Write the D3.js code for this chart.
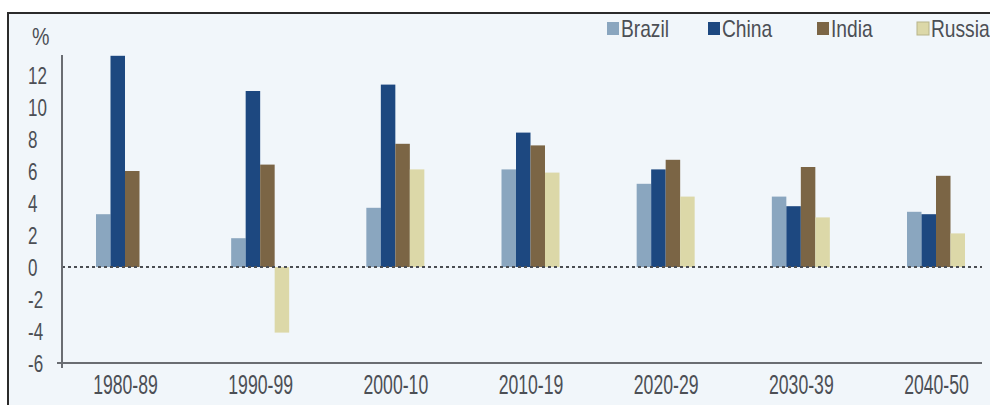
<!DOCTYPE html>
<html>
<head>
<meta charset="utf-8">
<script src="https://cdn.jsdelivr.net/npm/d3@7"></script>
<style>
  html, body { margin: 0; padding: 0; background: #ffffff; }
  svg { display: block; }
  text { font-family: "Liberation Sans", Arial, sans-serif; fill: #4c4f55; }
</style>
</head>
<body>
<svg id="chart" width="990" height="405"></svg>
<script>
// Decades on the category axis
const periods = ["1980-89", "1990-99", "2000-10", "2010-19", "2020-29", "2030-39", "2040-50"];
// Countries, one bar each per decade
const countries = ["Brazil", "China", "India", "Russia"];
// Average annual growth, % (null = no bar)
const brazil = [3.3, 1.8, 3.7, 6.1, 5.2, 4.4, 3.45];
const china  = [13.2, 11.0, 11.4, 8.4, 6.1, 3.8, 3.3];
const india  = [6.0, 6.4, 7.7, 7.6, 6.7, 6.25, 5.7];
const russia = [null, -4.1, 6.1, 5.9, 4.4, 3.1, 2.1];
// Value axis ticks
const yTicks = [-6, -4, -2, 0, 2, 4, 6, 8, 10, 12];
const colors = ["#8aa6bf", "#1d4880", "#7b6545", "#dcd8a8"];

const seriesValues = [brazil, china, india, russia];

const svg = d3.select("#chart");

// panel background and frame
svg.append("rect").attr("x", 8).attr("y", 13).attr("width", 982).attr("height", 392).attr("fill", "#f1f6fa");
svg.append("path").attr("d", "M8,405V13H990").attr("fill", "none").attr("stroke", "#2b2b2b").attr("stroke-width", 2);

const y = d3.scaleLinear().domain([-6, 13]).range([363, 59]);
const x = d3.scalePoint().domain(periods).range([125, 936]);
const xs = d3.scaleBand().domain(countries).range([-29, 29]);

// bars
const rows = [];
periods.forEach((p, i) => {
  countries.forEach((c, k) => {
    const v = seriesValues[k][i];
    if (v !== null) rows.push({ p, c, v, k });
  });
});

svg.append("g").selectAll("rect").data(rows).join("rect")
  .attr("x", d => x(d.p) + xs(d.c))
  .attr("width", xs.bandwidth())
  .attr("y", d => Math.min(y(d.v), y(0)))
  .attr("height", d => Math.abs(y(d.v) - y(0)))
  .attr("fill", d => colors[d.k]);

// dotted zero line
svg.append("line")
  .attr("x1", 62).attr("x2", 982)
  .attr("y1", y(0)).attr("y2", y(0))
  .attr("stroke", "#4a4d52").attr("stroke-width", 2)
  .attr("stroke-dasharray", "3,3");

// y axis: vertical line with left-aligned, condensed labels
const yAxis = d3.axisLeft(y).tickValues(yTicks).tickSize(0).tickPadding(0).tickFormat(d => String(d));
const gy = svg.append("g").attr("transform", "translate(62,0)").call(yAxis);
gy.select(".domain").remove();
gy.selectAll("text")
  .attr("x", 0)
  .attr("text-anchor", "start")
  .attr("dy", "0.36em")
  .attr("transform", "translate(-34,0) scale(0.74,1)")
  .style("font-size", "23px")
  .attr("fill", "#4c4f55");
svg.append("line").attr("x1", 62).attr("x2", 62).attr("y1", 55).attr("y2", 368)
  .attr("stroke", "#6a6d72").attr("stroke-width", 2);

svg.append("text").attr("transform", "translate(32,45) scale(0.82,1)").text("%")
  .style("font-size", "24px").attr("fill", "#8a8d92");

// x axis
const xAxis = d3.axisBottom(x).tickSize(0).tickPadding(11);
const gx = svg.append("g").attr("transform", "translate(0,363)").call(xAxis);
gx.select(".domain").remove();
gx.selectAll("text")
  .attr("transform", "scale(0.63,1)")
  .style("font-size", "28px").attr("fill", "#4c4f55");
svg.append("line").attr("x1", 57).attr("x2", 982).attr("y1", 363).attr("y2", 363)
  .attr("stroke", "#6a6d72").attr("stroke-width", 2);

// legend
const legendX = [607, 708, 817, 917];
const lg = svg.append("g").selectAll("g").data(countries).join("g")
  .attr("transform", (d, i) => `translate(${legendX[i]},22)`);
lg.append("rect").attr("width", 12).attr("height", 13)
  .attr("fill", (d, i) => colors[i])
  .attr("stroke", (d, i) => i === 3 ? "#b8b48a" : "none").attr("stroke-width", 1);
lg.append("text").attr("transform", "translate(14,15) scale(0.8,1)").text(d => d)
  .style("font-size", "24px").attr("fill", "#4c4f55");
</script>
</body>
</html>
